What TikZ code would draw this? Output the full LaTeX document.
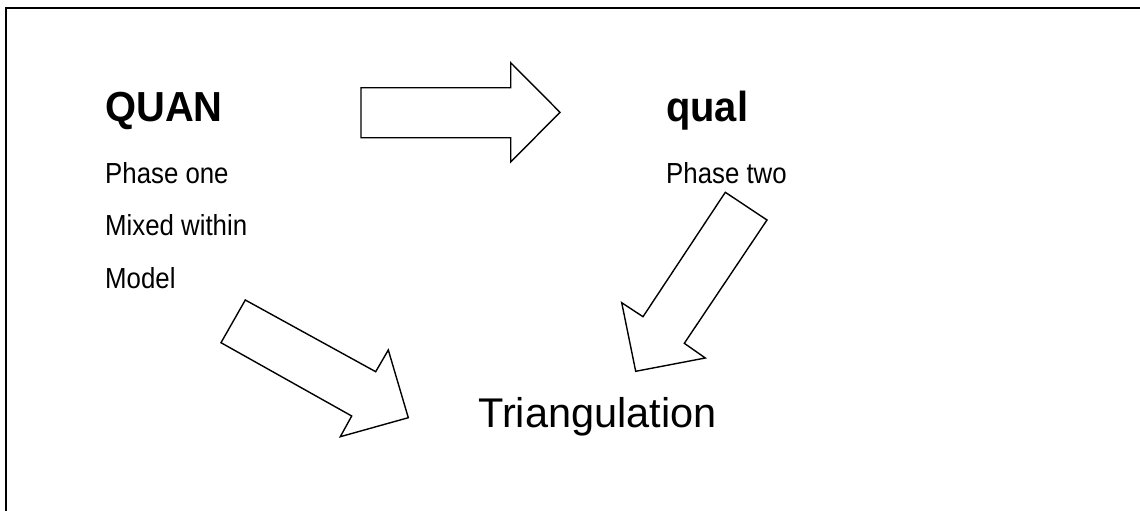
\documentclass[tikz,border=0pt]{standalone}
\usepackage{graphicx}
\usepackage{fontspec}
\setmainfont{Liberation Sans}
\newcommand{\narrow}[2]{\scalebox{#1}[1]{#2}}
\begin{document}
\begin{tikzpicture}[x=1pt,y=-1pt,
  frame/.style={line width=2pt},
  blockarrow/.style={draw=black,line width=1.4pt,fill=white,line join=miter},
  title/.style={anchor=base west,inner sep=0pt,font=\fontsize{42}{48}\selectfont\bfseries},
  label/.style={anchor=base west,inner sep=0pt,font=\fontsize{29}{34}\selectfont},
  big/.style={anchor=base west,inner sep=0pt,font=\fontsize{41.5}{48}\selectfont}]
\useasboundingbox (0,0) rectangle (1140,511);
\fill[white] (0,0) rectangle (1140,511);
% frame (only top and left edges visible)
\draw[frame] (5.5,515) -- (5.5,8.5) -- (1145,8.5);
% texts
\node[title] (quan) at (105,121) {\narrow{0.95}{QUAN}};
\node[label] (p1) at (105,183) {\narrow{0.89}{Phase one}};
\node[label] (mw) at (105,235.5) {\narrow{0.89}{Mixed within}};
\node[label] (mo) at (105,288) {\narrow{0.89}{Model}};
\node[title] (qual) at (666,121.5) {\narrow{0.95}{qual}};
\node[label] (p2) at (666,183) {\narrow{0.89}{Phase two}};
\node[big] (tri) at (478,427) {Triangulation};
% block arrows
\draw[blockarrow] (361,87.7) -- (510.7,87.7) -- (510.7,62.7) -- (560,112.3)
  -- (510.7,162) -- (510.7,137.7) -- (361,137.7) -- cycle;
\draw[blockarrow] (725.3,192.3) -- (767,220) -- (684.3,343.3) -- (705.3,358)
  -- (635.7,371.3) -- (621.7,302.7) -- (643,316.7) -- cycle;
\draw[blockarrow] (245.3,300) -- (375.7,371.7) -- (388.3,350) -- (408.3,417.7)
  -- (340.3,436.7) -- (351.7,416) -- (221,342.7) -- cycle;
\end{tikzpicture}
\end{document}
